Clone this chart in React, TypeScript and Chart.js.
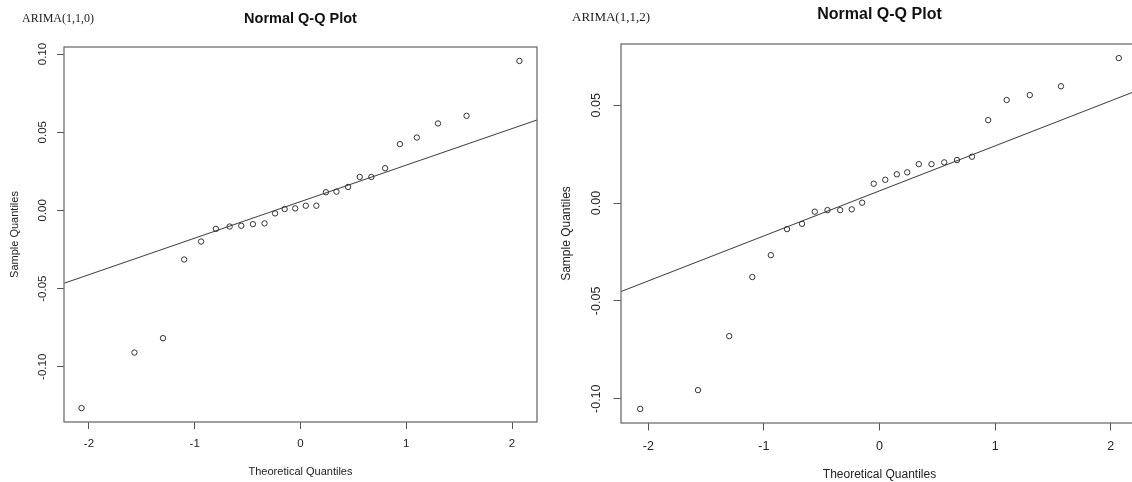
import React, { useEffect, useRef } from "react";
import { Chart, registerables } from "chart.js";

Chart.register(...registerables);

// ---- data ----
const theoreticalQuantiles = [
  -2.07, -1.57, -1.30, -1.10, -0.94, -0.80, -0.67, -0.56, -0.45, -0.34, -0.24, -0.15, -0.05,
  0.05, 0.15, 0.24, 0.34, 0.45, 0.56, 0.67, 0.80, 0.94, 1.10, 1.30, 1.57, 2.07,
];

const sampleArima110 = [
  -0.1264, -0.0909, -0.0817, -0.0314, -0.0199, -0.0118, -0.0103, -0.0098, -0.0088, -0.0083,
  -0.0019, 0.0009, 0.0013, 0.003, 0.003, 0.0116, 0.012, 0.015, 0.0214, 0.0214, 0.027, 0.0424,
  0.0466, 0.0556, 0.0605, 0.0956,
];

const sampleArima112 = [
  -0.1052, -0.0956, -0.068, -0.0378, -0.0266, -0.0133, -0.0106, -0.0044, -0.0036, -0.0036,
  -0.0032, 0.0002, 0.0099, 0.0119, 0.0147, 0.0157, 0.0199, 0.0199, 0.0208, 0.022, 0.0237,
  0.0424, 0.0527, 0.0552, 0.0597, 0.0741,
];

const lineX = [-2.236, 2.236];
const lineYArima110 = [-0.0466, 0.0578];
const lineYArima112 = [-0.0452, 0.0577];

const xTicks = [-2, -1, 0, 1, 2];
const yTicksArima110 = [-0.1, -0.05, 0, 0.05, 0.1];
const yTicksArima112 = [-0.1, -0.05, 0, 0.05];

const xRange = [-2.236, 2.236];
const yRangeArima110 = [-0.1353, 0.1045];
const yRangeArima112 = [-0.1124, 0.0813];

const panelTitle = "Normal Q-Q Plot";
const xTitle = "Theoretical Quantiles";
const yTitle = "Sample Quantiles";
const labelArima110 = "ARIMA(1,1,0)";
const labelArima112 = "ARIMA(1,1,2)";

const SANS = "'Liberation Sans', Arial, Helvetica, sans-serif";
const SERIF = "'Liberation Serif', 'Times New Roman', serif";

type Geo = {
  width: number;
  height: number;
  padRight: number;
  yAxisW: number;
  xAxisH: number;
  titleSize: number;
  titlePadTop: number;
  titlePadBottom: number;
  tickSize: number;
  tickLen: number;
  xTickPad: number;
  yTickPad: number;
  axisTitleSize: number;
  xTitlePadBottom: number;
  yTitlePadTop: number;
};

const boxPlugin = {
  id: "rbox",
  afterDatasetsDraw(chart: any) {
    const { ctx, chartArea } = chart;
    ctx.save();
    ctx.strokeStyle = "#6e6e6e";
    ctx.lineWidth = 1.3;
    ctx.strokeRect(chartArea.left, chartArea.top, chartArea.right - chartArea.left, chartArea.bottom - chartArea.top);
    ctx.restore();
  },
};

function makeConfig(ys: number[], lineY: number[], yRange: number[], yTicks: number[], g: Geo): any {
  return {
    type: "scatter",
    data: {
      datasets: [
        {
          data: theoreticalQuantiles.map((x, i) => ({ x, y: ys[i] })),
          showLine: false,
          pointStyle: "circle",
          pointRadius: 2.7,
          borderWidth: 1,
          borderColor: "#333",
          backgroundColor: "rgba(0,0,0,0)",
        },
        {
          type: "line",
          data: lineX.map((x, i) => ({ x, y: lineY[i] })),
          showLine: true,
          borderColor: "#444",
          borderWidth: 1.1,
          pointRadius: 0,
          fill: false,
        },
      ],
    },
    options: {
      animation: false,
      responsive: false,
      events: [],
      layout: { padding: { left: 0, right: g.padRight, top: 0, bottom: 0 } },
      plugins: {
        legend: { display: false },
        tooltip: { enabled: false },
        title: {
          display: true,
          text: panelTitle,
          fullSize: false,
          color: "#111",
          font: { family: SANS, size: g.titleSize, weight: "bold", lineHeight: 1.2 },
          padding: { top: g.titlePadTop, bottom: g.titlePadBottom },
        },
      },
      scales: {
        x: {
          type: "linear",
          position: "bottom",
          min: xRange[0],
          max: xRange[1],
          afterBuildTicks: (s: any) => {
            s.ticks = xTicks.map((v) => ({ value: v }));
          },
          afterFit: (s: any) => {
            s.height = g.xAxisH;
          },
          grid: {
            display: true,
            drawOnChartArea: false,
            drawTicks: true,
            tickLength: g.tickLen,
            color: "#555",
            lineWidth: 1,
          },
          border: { display: false },
          ticks: {
            autoSkip: false,
            maxRotation: 0,
            padding: g.xTickPad,
            color: "#222",
            font: { family: SANS, size: g.tickSize, lineHeight: 1.2 },
            callback: (v: any) => String(v),
          },
          title: {
            display: true,
            text: xTitle,
            color: "#222",
            font: { family: SANS, size: g.axisTitleSize, lineHeight: 1.2 },
            padding: { top: 0, bottom: g.xTitlePadBottom },
          },
        },
        y: {
          type: "linear",
          position: "left",
          min: yRange[0],
          max: yRange[1],
          afterBuildTicks: (s: any) => {
            s.ticks = yTicks.map((v) => ({ value: v }));
          },
          afterFit: (s: any) => {
            s.width = g.yAxisW;
          },
          grid: {
            display: true,
            drawOnChartArea: false,
            drawTicks: true,
            tickLength: g.tickLen,
            color: "#555",
            lineWidth: 1,
          },
          border: { display: false },
          ticks: {
            autoSkip: false,
            minRotation: 90,
            maxRotation: 90,
            crossAlign: "center",
            padding: g.yTickPad,
            color: "#222",
            font: { family: SANS, size: g.tickSize, lineHeight: 1.2 },
            callback: (v: any) => Number(v).toFixed(2),
          },
          title: {
            display: true,
            text: yTitle,
            color: "#222",
            font: { family: SANS, size: g.axisTitleSize, lineHeight: 1.2 },
            padding: { top: g.yTitlePadTop, bottom: 0 },
          },
        },
      },
    },
    plugins: [boxPlugin],
  };
}

const geoLeft: Geo = {
  width: 566,
  height: 482,
  padRight: 29,
  yAxisW: 64,
  xAxisH: 60,
  titleSize: 14.5,
  titlePadTop: 9.8,
  titlePadBottom: 19.8,
  tickSize: 11.5,
  tickLen: 7,
  xTickPad: 8.1,
  yTickPad: 1.4,
  axisTitleSize: 11,
  xTitlePadBottom: 3.4,
  yTitlePadTop: 8.4,
};

const geoRight: Geo = {
  width: 596,
  height: 482,
  padRight: 8,
  yAxisW: 71,
  xAxisH: 59,
  titleSize: 16,
  titlePadTop: 5.4,
  titlePadBottom: 19.4,
  tickSize: 12.5,
  tickLen: 7.5,
  xTickPad: 9,
  yTickPad: 2.8,
  axisTitleSize: 12,
  xTitlePadBottom: 0,
  yTitlePadTop: 9.8,
};

function QQPanel(props: { ys: number[]; lineY: number[]; yRange: number[]; yTicks: number[]; g: Geo; left: number }) {
  const ref = useRef<HTMLCanvasElement | null>(null);
  useEffect(() => {
    if (!ref.current) return;
    const chart = new Chart(ref.current, makeConfig(props.ys, props.lineY, props.yRange, props.yTicks, props.g));
    return () => chart.destroy();
  }, []);
  return (
    <canvas
      ref={ref}
      width={props.g.width}
      height={props.g.height}
      style={{ position: "absolute", left: props.left, top: 0, width: props.g.width, height: props.g.height }}
    />
  );
}

export default function App() {
  return (
    <div
      style={{
        position: "absolute",
        left: 0,
        top: 0,
        width: 1132,
        height: 482,
        overflow: "hidden",
        background: "#fff",
      }}
    >
      <QQPanel ys={sampleArima110} lineY={lineYArima110} yRange={yRangeArima110} yTicks={yTicksArima110} g={geoLeft} left={0} />
      <QQPanel ys={sampleArima112} lineY={lineYArima112} yRange={yRangeArima112} yTicks={yTicksArima112} g={geoRight} left={550} />
      <div
        style={{
          position: "absolute",
          left: 22,
          top: 11,
          fontFamily: SERIF,
          fontSize: 12,
          lineHeight: "14px",
          color: "#222",
          whiteSpace: "nowrap",
        }}
      >
        {labelArima110}
      </div>
      <div
        style={{
          position: "absolute",
          left: 572,
          top: 8.5,
          fontFamily: SERIF,
          fontSize: 13,
          lineHeight: "15px",
          color: "#222",
          whiteSpace: "nowrap",
        }}
      >
        {labelArima112}
      </div>
    </div>
  );
}
